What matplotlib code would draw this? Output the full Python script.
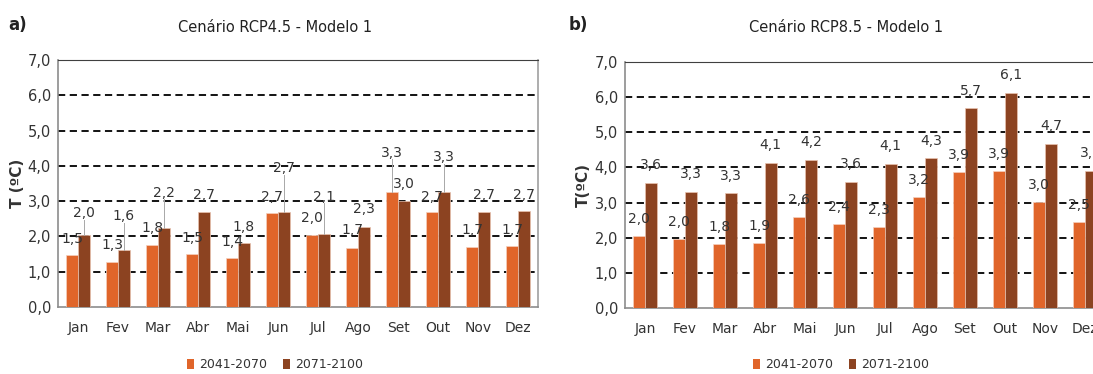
import matplotlib
matplotlib.use("Agg")
import matplotlib.pyplot as plt
from matplotlib.patches import Patch

meses = ["Jan", "Fev", "Mar", "Abr", "Mai", "Jun", "Jul", "Ago", "Set", "Out", "Nov", "Dez"]
periodos = ["2041-2070", "2071-2100"]

# Cenário RCP4.5 - Modelo 1
rcp45_2041 = [1.47, 1.28, 1.77, 1.50, 1.38, 2.66, 2.04, 1.66, 3.27, 2.68, 1.69, 1.74]
rcp45_2071 = [2.04, 1.62, 2.24, 2.68, 1.81, 2.69, 2.07, 2.27, 3.00, 3.27, 2.70, 2.73]

# Cenário RCP8.5 - Modelo 1
rcp85_2041 = [2.04, 1.97, 1.83, 1.86, 2.58, 2.39, 2.30, 3.16, 3.87, 3.91, 3.02, 2.46]
rcp85_2071 = [3.56, 3.30, 3.27, 4.13, 4.21, 3.59, 4.11, 4.26, 5.68, 6.13, 4.68, 3.91]

# label lift above each bar (data units), as placed in the original
lift45_2041 = [0.47, 0.47, 0.46, 0.45, 0.47, 0.46, 0.47, 0.52, 1.10, 0.44, 0.49, 0.44]
lift45_2071 = [0.61, 0.95, 0.99, 0.49, 0.46, 1.24, 1.05, 0.50, 0.48, 0.97, 0.47, 0.44]
lift85_2041 = [0.48] * 12
lift85_2071 = [0.50] * 12

c_old = "#E0652A"
c_new = "#8C4321"

plt.rcParams['font.family'] = ['Liberation Sans Narrow', 'DejaVu Sans']

fig = plt.figure(figsize=(10.93, 3.74), dpi=100)
ax1 = fig.add_axes([58 / 1093, 67 / 374, 480 / 1093, 247 / 374])
ax2 = fig.add_axes([625 / 1093, 66 / 374, 480 / 1093, 246 / 374])


def fmt(v):
    return f"{v:.1f}".replace(".", ",")


def draw(ax, a, b, la, lb, right_spine):
    x = list(range(len(meses)))
    w = 0.29
    xa = [i - w / 2 for i in x]
    xb = [i + w / 2 for i in x]
    ax.bar(xa, a, w, color=c_old, edgecolor="#F6D0BD", linewidth=0.5, zorder=3)
    ax.bar(xb, b, w, color=c_new, edgecolor="#E9C3B0", linewidth=0.5, zorder=3)
    for xs, vals, lifts in [(xa, a, la), (xb, b, lb)]:
        for xi, v, d in zip(xs, vals, lifts):
            ax.text(xi, v + d, fmt(v), ha="center", va="center", fontsize=10,
                    color="#333333", zorder=5)
            if d > 0.55:
                ax.plot([xi, xi], [v, v + d - 0.18], color="#A8A8A8", lw=0.7, zorder=4)
    ax.set_xlim(-0.5, 11.5)
    ax.set_ylim(0, 7)
    ax.set_yticks([0, 1, 2, 3, 4, 5, 6, 7])
    ax.set_yticklabels([fmt(t) for t in range(8)], fontsize=10.5, color="#333333")
    ax.set_xticks(x)
    ax.set_xticklabels(meses, fontsize=10, color="#333333")
    ax.tick_params(length=0, pad=5)
    ax.tick_params(axis="x", pad=10)
    for t in range(1, 8):
        ax.axhline(t, color="black", lw=1.3, linestyle=(0, (4, 2.5)), zorder=2)
    for s in ["left", "bottom"]:
        ax.spines[s].set_color("#8C8C8C")
        ax.spines[s].set_linewidth(1.2)
    ax.spines["top"].set_color("#404040")
    ax.spines["top"].set_linewidth(0.8)
    ax.spines["right"].set_visible(right_spine)
    ax.spines["right"].set_color("#A0A0A0")
    ax.spines["right"].set_linewidth(1.2)
    ax.set_axisbelow(True)


draw(ax1, rcp45_2041, rcp45_2071, lift45_2041, lift45_2071, True)
draw(ax2, rcp85_2041, rcp85_2071, lift85_2041, lift85_2071, False)

fig.text(17 / 1093, 1 - 183 / 374, "T (ºC)", rotation=90, ha="center", va="center",
         fontsize=11, color="#333333", fontweight="bold")
fig.text(583 / 1093, 1 - 185 / 374, "T(ºC)", rotation=90, ha="center", va="center",
         fontsize=11, color="#333333", fontweight="bold")

fig.text(275 / 1093, 1 - 27 / 374, "Cenário RCP4.5 - Modelo 1", ha="center", va="center",
         fontsize=10.5, color="#222222")
fig.text(846 / 1093, 1 - 28 / 374, "Cenário RCP8.5 - Modelo 1", ha="center", va="center",
         fontsize=10.5, color="#222222")
fig.text(18 / 1093, 1 - 25 / 374, "a)", ha="center", va="center", fontsize=12,
         fontweight="bold", color="#222222")
fig.text(578 / 1093, 1 - 25 / 374, "b)", ha="center", va="center", fontsize=12,
         fontweight="bold", color="#222222")

handles = [Patch(facecolor=c_old, label=periodos[0]), Patch(facecolor=c_new, label=periodos[1])]
for cx in [275, 841]:
    fig.legend(handles=handles, loc="center", bbox_to_anchor=(cx / 1093, 1 - 365 / 374),
               ncol=2, frameon=False, fontsize=9, handlelength=0.55, handleheight=0.8,
               handletextpad=0.4, columnspacing=1.3, labelcolor="#333333")

fig.savefig("out.png", dpi=100)
